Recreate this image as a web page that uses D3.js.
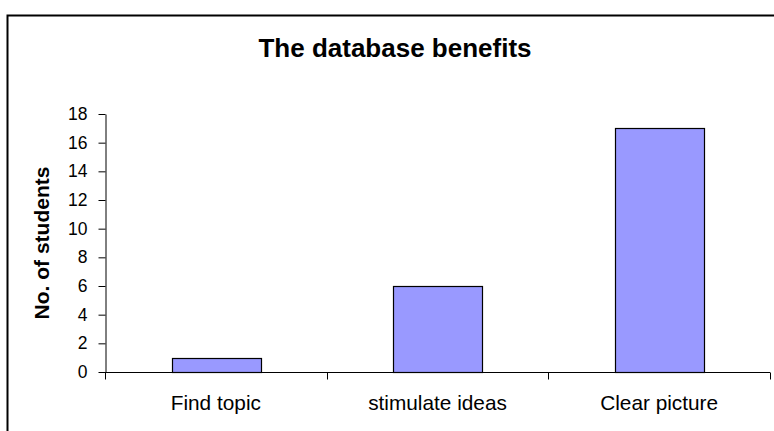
<!DOCTYPE html>
<html>
<head>
<meta charset="utf-8">
<script src="https://cdn.jsdelivr.net/npm/d3@7"></script>
<style>
  html, body { margin: 0; padding: 0; background: #fff; }
  svg { display: block; }
  text { font-family: "Liberation Sans", Arial, sans-serif; fill: #000; }
</style>
</head>
<body>
<svg id="chart" width="774" height="431"></svg>
<script>
const categories = ["Find topic", "stimulate ideas", "Clear picture"];
const values = [1, 6, 17];
const yTicks = [0, 2, 4, 6, 8, 10, 12, 14, 16, 18];
const title = "The database benefits";
const yLabel = "No. of students";

const svg = d3.select("#chart");
const W = 774, H = 431;
const m = { left: 105, right: 4, top: 114, bottom: 59 };

// outer chart border (extends past right and bottom edges)
svg.append("rect")
  .attr("x", 7.5).attr("y", 15.5)
  .attr("width", W).attr("height", H)
  .attr("fill", "none").attr("stroke", "#000").attr("stroke-width", 2);

const x = d3.scaleBand().domain(categories)
  .range([m.left, W - m.right]).paddingInner(0.6).paddingOuter(0.3);
const xTickScale = d3.scaleBand().domain(categories).range([m.left, W - m.right]);
const y = d3.scaleLinear().domain([0, 18]).range([H - m.bottom, m.top]);

// bars
svg.append("g").selectAll("rect").data(values).join("rect")
  .attr("x", (d, i) => Math.round(x(categories[i])) + 0.5)
  .attr("y", d => Math.round(y(d)) + 0.5)
  .attr("width", Math.round(x.bandwidth()))
  .attr("height", d => Math.round(y(0)) - Math.round(y(d)))
  .attr("fill", "#9999ff").attr("stroke", "#000").attr("stroke-width", 1.2);

// y axis
const yAxis = svg.append("g")
  .attr("transform", `translate(${m.left + 0.5},0)`)
  .call(d3.axisLeft(y).tickValues(yTicks).tickSize(7).tickPadding(11).tickSizeOuter(0));
yAxis.selectAll("text").style("font-size", "17.5px");
yAxis.selectAll("line, path").attr("stroke", "#000");

// x axis: ticks at band boundaries
const xg = svg.append("g").attr("transform", `translate(0,${Math.round(y(0)) + 0.5})`);
xg.append("line").attr("x1", m.left).attr("x2", W - m.right)
  .attr("stroke", "#000");
const bounds = [m.left].concat(categories.map(c => xTickScale(c) + xTickScale.bandwidth()));
xg.selectAll("line.tk").data(bounds).join("line").attr("class", "tk")
  .attr("x1", d => Math.round(d) + 0.5).attr("x2", d => Math.round(d) + 0.5)
  .attr("y1", 0).attr("y2", 7).attr("stroke", "#000");
xg.selectAll("text").data(categories).join("text")
  .attr("x", c => xTickScale(c) + xTickScale.bandwidth() / 2)
  .attr("y", 37)
  .attr("text-anchor", "middle")
  .style("font-size", "20.8px")
  .text(c => c);

// title
svg.append("text")
  .attr("x", 395).attr("y", 57)
  .attr("text-anchor", "middle")
  .style("font-size", "26px").style("font-weight", "bold")
  .text(title);

// y label
svg.append("text")
  .attr("transform", `translate(49,${(y(0) + y(18)) / 2}) rotate(-90)`)
  .attr("text-anchor", "middle")
  .style("font-size", "21px").style("font-weight", "bold")
  .text(yLabel);
</script>
</body>
</html>
